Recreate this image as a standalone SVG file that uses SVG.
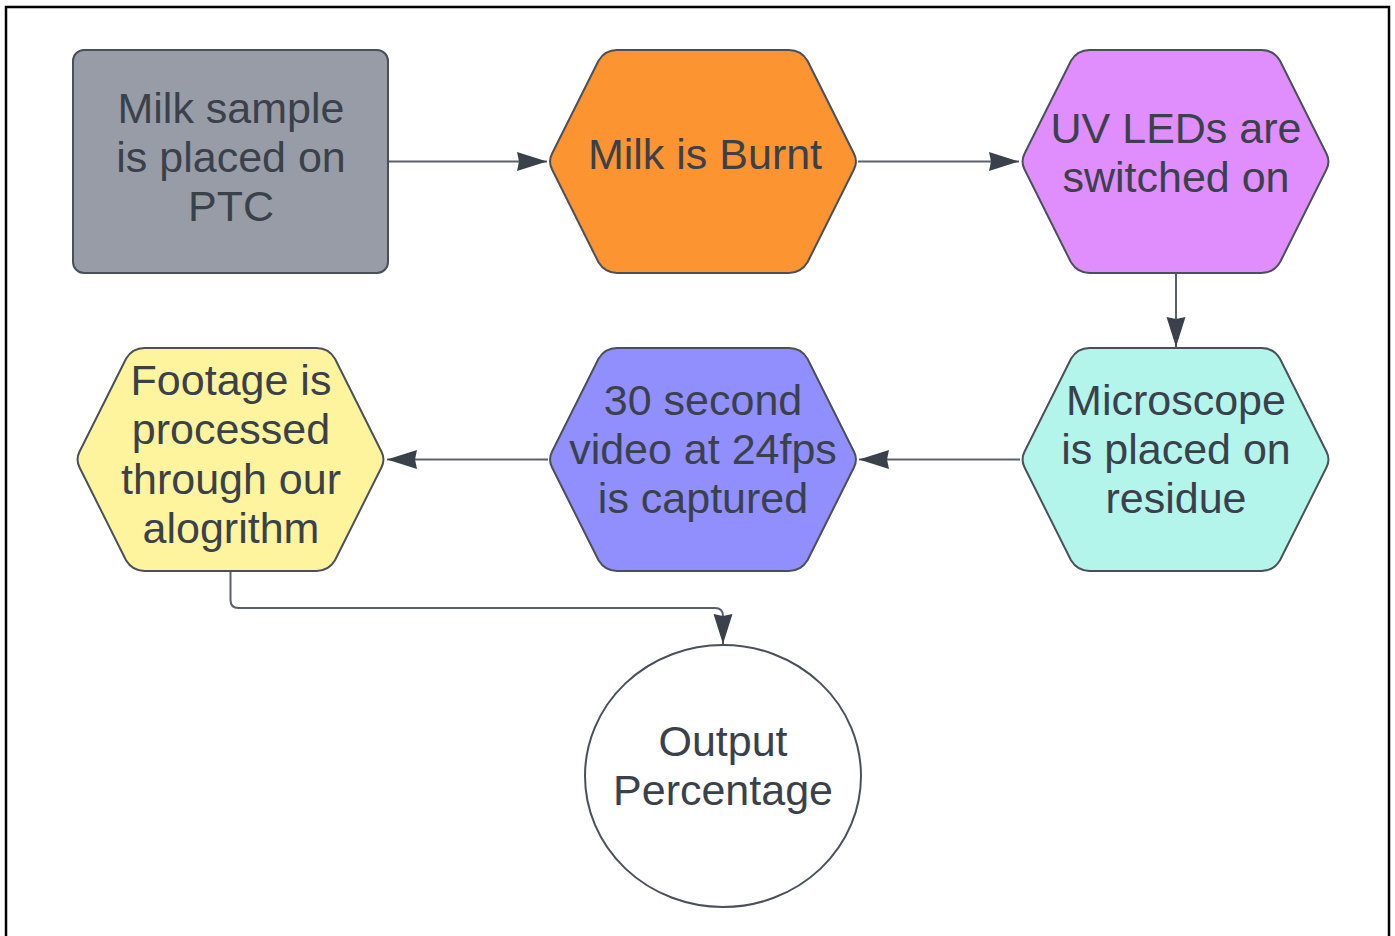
<svg xmlns="http://www.w3.org/2000/svg" width="1395" height="936" viewBox="0 0 1395 936">
<style>
.t{font-family:"Liberation Sans",Arial,sans-serif;font-size:43px;fill:#3a414b;text-anchor:middle}
.s{stroke:#4a5059;stroke-width:2}
.c{fill:none;stroke:#5b6068;stroke-width:2}
</style>
<defs>
<path id="hex" d="M-104.5,-100.8 Q-98,-111.5 -86,-111.5 H86 Q98,-111.5 104.5,-100.8 L150.9,-8 Q155,0 150.9,8 L104.5,100.8 Q98,111.5 86,111.5 H-86 Q-98,111.5 -104.5,100.8 L-150.9,8 Q-155,0 -150.9,-8 Z"/>
<marker id="ah" viewBox="0 0 30 20" refX="30" refY="10" markerWidth="30" markerHeight="20" markerUnits="userSpaceOnUse" orient="auto">
<path d="M0,0.5 L30,10 L0,19.5 L2,10 Z" fill="#3a414b"/>
</marker>
</defs>
<rect width="1395" height="936" fill="#ffffff"/>
<path d="M6,936 V7 H1389 V936" fill="none" stroke="#000" stroke-width="2.5"/>
<g id="connectors">
<path class="c" d="M388,161.5 H547" marker-end="url(#ah)"/>
<path class="c" d="M858,161.5 H1019" marker-end="url(#ah)"/>
<path class="c" d="M1176,273 V347" marker-end="url(#ah)"/>
<path class="c" d="M1020,459.5 H859" marker-end="url(#ah)"/>
<path class="c" d="M548,459.5 H387" marker-end="url(#ah)"/>
<path class="c" d="M230.5,571 V600 Q230.5,608 238.5,608 H715 Q723,608 723,616 V644" marker-end="url(#ah)"/>
</g>
<g id="n1">
<rect class="s" x="73" y="50" width="315" height="223" rx="11" fill="#979ca6"/>
<text class="t" x="231" y="123">Milk sample</text>
<text class="t" x="231" y="172">is placed on</text>
<text class="t" x="231" y="221">PTC</text>
</g>
<g id="n2">
<use href="#hex" class="s" fill="#fc9432" transform="translate(703,161.5)"/>
<text class="t" x="705" y="169">Milk is Burnt</text>
</g>
<g id="n3">
<use href="#hex" class="s" fill="#e08dfd" transform="translate(1175.5,161.5)"/>
<text class="t" x="1176" y="143">UV LEDs are</text>
<text class="t" x="1176" y="192">switched on</text>
</g>
<g id="n4">
<use href="#hex" class="s" fill="#b3f4eb" transform="translate(1175.5,459.5)"/>
<text class="t" x="1176" y="415">Microscope</text>
<text class="t" x="1176" y="464">is placed on</text>
<text class="t" x="1176" y="513">residue</text>
</g>
<g id="n5">
<use href="#hex" class="s" fill="#918ffd" transform="translate(703,459.5)"/>
<text class="t" x="703" y="415">30 second</text>
<text class="t" x="703" y="464">video at 24fps</text>
<text class="t" x="703" y="513">is captured</text>
</g>
<g id="n6">
<use href="#hex" class="s" fill="#fdf49d" transform="translate(230.5,459.5)"/>
<text class="t" x="231" y="395">Footage is</text>
<text class="t" x="231" y="444">processed</text>
<text class="t" x="231" y="494">through our</text>
<text class="t" x="231" y="543">alogrithm</text>
</g>
<g id="n7">
<ellipse class="s" cx="723" cy="776" rx="138" ry="131" fill="#ffffff"/>
<text class="t" x="723" y="756">Output</text>
<text class="t" x="723" y="805">Percentage</text>
</g>
</svg>
